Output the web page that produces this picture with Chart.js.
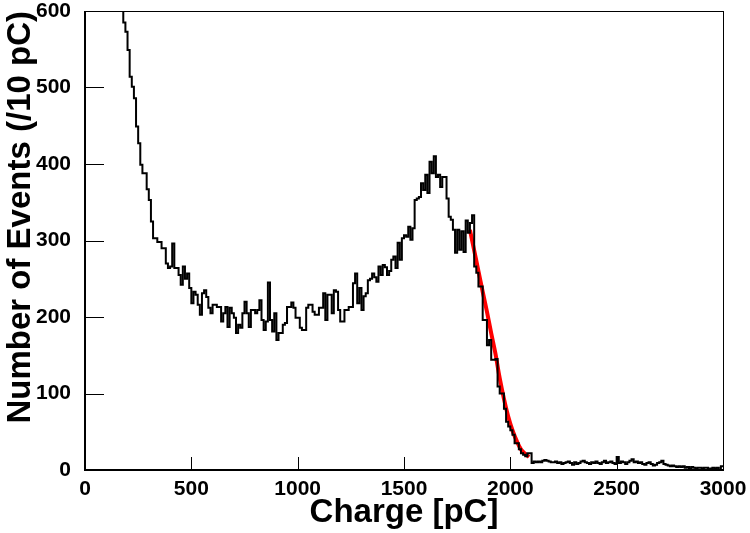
<!DOCTYPE html>
<html>
<head>
<meta charset="utf-8">
<title>Charge spectrum</title>
<script src="https://cdn.jsdelivr.net/npm/chart.js@4.4.1/dist/chart.umd.min.js"></script>
<style>
    body { margin: 0; background: #fff; }
    #wrap { width: 750px; height: 533px; position: relative; }
</style>
</head>
<body>
<div id="wrap"><canvas id="charge_chart"></canvas></div>
<script>

// histogram: 300 bins of 10 pC starting at 0
let bin_start = 0;
let bin_width = 10;
let counts = [
    1400, 1320, 1250, 1180, 1120, 1060, 1010, 960, 910, 870,
    830, 790, 760, 730, 700, 670, 645, 620, 585, 573,
    549, 514, 501, 486, 449, 427, 399, 388, 388, 367,
    353, 325, 303, 303, 298, 298, 290, 290, 270, 264,
    266, 296, 264, 264, 255, 242, 266, 250, 257, 238,
    218, 233, 229, 216, 203, 231, 235, 226, 212, 205,
    216, 216, 213, 213, 194, 205, 213, 187, 212, 205,
    199, 179, 190, 186, 205, 220, 205, 187, 209, 209,
    205, 209, 222, 196, 183, 194, 245, 196, 181, 205,
    170, 179, 179, 190, 192, 213, 213, 219, 212, 199,
    199, 186, 183, 183, 212, 216, 216, 207, 203, 203,
    212, 212, 231, 196, 229, 229, 205, 235, 233, 209,
    194, 194, 209, 209, 213, 213, 244, 257, 218, 238,
    209, 227, 231, 248, 250, 257, 252, 246, 266, 255,
    268, 265, 255, 260, 275, 279, 264, 297, 275, 303,
    307, 305, 318, 301, 316, 353, 355, 357, 375, 366,
    386, 362, 403, 388, 410, 383, 386, 370, 383, 383,
    355, 331, 327, 314, 284, 314, 288, 312, 285, 326,
    310, 323, 333, 266, 258, 240, 240, 196, 196, 163,
    170, 144, 144, 145, 109, 100, 100, 80, 63, 57,
    52, 46, 35, 35, 27, 22, 20, 18, 22, 22,
    9, 11, 10, 11, 10, 12, 13, 12, 11, 10,
    10, 11, 9, 10, 8, 9, 10, 11, 9, 7,
    10, 8, 9, 11, 12, 10, 9, 8, 10, 9,
    11, 9, 8, 10, 12, 9, 10, 11, 9, 8,
    17, 9, 11, 10, 8, 10, 12, 14, 10, 11,
    9, 10, 8, 7, 9, 10, 8, 6, 7, 9,
    10, 12, 8, 7, 6, 5, 6, 5, 4, 5,
    4, 5, 3, 4, 2, 4, 3, 2, 3, 3,
    2, 3, 3, 1, 2, 3, 2, 3, 0, 5
];

// fitted falling edge (red curve)
let fit_charge = [1810, 1830, 1850, 1870, 1890, 1910, 1930, 1950, 1970, 1990, 2010, 2030, 2050, 2070, 2088];
let fit_value = [314, 287, 260, 233, 207, 179, 152, 120, 93, 70, 52, 38, 27, 21, 17];

let x_ticks = [0, 500, 1000, 1500, 2000, 2500, 3000];
let y_ticks = [0, 100, 200, 300, 400, 500, 600];

// one point per lower bin edge, plus the closing edge
let hist_points = counts.map(function(c, i) {
    return {x: bin_start + i * bin_width, y: c};
});
hist_points.push({x: bin_start + counts.length * bin_width, y: counts[counts.length - 1]});

let fit_points = fit_charge.map(function(q, i) {
    return {x: q, y: fit_value[i]};
});

// ROOT style frame with ticks pointing inwards
const frame_plugin = {
    id: 'frame_plugin',
    afterDatasetsDraw(chart) {
        const ctx = chart.ctx;
        const a = chart.chartArea;
        const sx = chart.scales.x;
        const sy = chart.scales.y;
        ctx.save();
        ctx.strokeStyle = '#000';
        ctx.lineWidth = 1;
        ctx.beginPath();
        sx.ticks.forEach(function(t) {
            let px = Math.round(sx.getPixelForValue(t.value)) + 0.5;
            ctx.moveTo(px, a.bottom);
            ctx.lineTo(px, a.bottom - 13);
        });
        sy.ticks.forEach(function(t) {
            let py = Math.round(sy.getPixelForValue(t.value)) + 0.5;
            ctx.moveTo(a.left, py);
            ctx.lineTo(a.left + 19, py);
        });
        ctx.stroke();

        ctx.lineWidth = 1;
        ctx.strokeRect(a.left + 0.5, a.top + 0.5, a.right - a.left, a.bottom - a.top);
        ctx.lineWidth = 2;
        ctx.beginPath();
        ctx.moveTo(a.left, a.top);
        ctx.lineTo(a.left, a.bottom);
        ctx.lineTo(a.right, a.bottom);
        ctx.stroke();
        ctx.restore();
    }
};

let label_font = {family: 'Liberation Sans, Arial, sans-serif', size: 21, weight: 'bold'};
let title_font = {family: 'Liberation Sans, Arial, sans-serif', size: 33, weight: 'bold'};

let ctx = document.getElementById('charge_chart');

let charge_chart = new Chart(ctx, {
    type: 'line',
    data: {
        datasets: [
            {
                label: 'Events',
                data: hist_points,
                stepped: 'before',
                borderColor: '#000',
                borderWidth: 2,
                pointRadius: 0,
                fill: false
            },
            {
                label: 'Fit',
                data: fit_points,
                borderColor: '#ff0000',
                borderWidth: 4,
                tension: 0.4,
                pointRadius: 0,
                fill: false
            }
        ]
    },
    options: {
        responsive: true,
        maintainAspectRatio: false,
        animation: false,
        layout: {
            padding: {top: 11, right: 27, left: 0, bottom: 0}
        },
        scales: {
            x: {
                type: 'linear',
                min: 0,
                max: 3000,
                afterFit: function(scale) {
                    scale.height = 63;
                    scale.paddingLeft = 0;
                    scale.paddingRight = 0;
                },
                afterBuildTicks: function(scale) {
                    scale.ticks = x_ticks.map(function(v) { return {value: v}; });
                },
                grid: {display: false, drawTicks: false},
                border: {display: false},
                ticks: {
                    autoSkip: false,
                    maxRotation: 0,
                    padding: 7,
                    color: '#000',
                    font: label_font,
                    callback: function(v) { return String(v); }
                },
                title: {
                    display: true,
                    text: 'Charge [pC]',
                    color: '#000',
                    padding: {top: 0, bottom: 0},
                    font: title_font
                }
            },
            y: {
                min: 0,
                max: 600,
                afterFit: function(scale) {
                    scale.width = 85;
                    scale.paddingTop = 0;
                    scale.paddingBottom = 0;
                },
                afterBuildTicks: function(scale) {
                    scale.ticks = y_ticks.map(function(v) { return {value: v}; });
                },
                grid: {display: false, drawTicks: false},
                border: {display: false},
                ticks: {
                    padding: 14,
                    color: '#000',
                    font: label_font,
                    callback: function(v) { return String(v); }
                },
                title: {
                    display: true,
                    text: 'Number of Events (/10 pC)',
                    align: 'end',
                    color: '#000',
                    padding: {top: 1, bottom: 0},
                    font: title_font
                }
            }
        },
        plugins: {
            legend: {display: false},
            tooltip: {enabled: false}
        }
    },
    plugins: [frame_plugin]
});

</script>
</body>
</html>
